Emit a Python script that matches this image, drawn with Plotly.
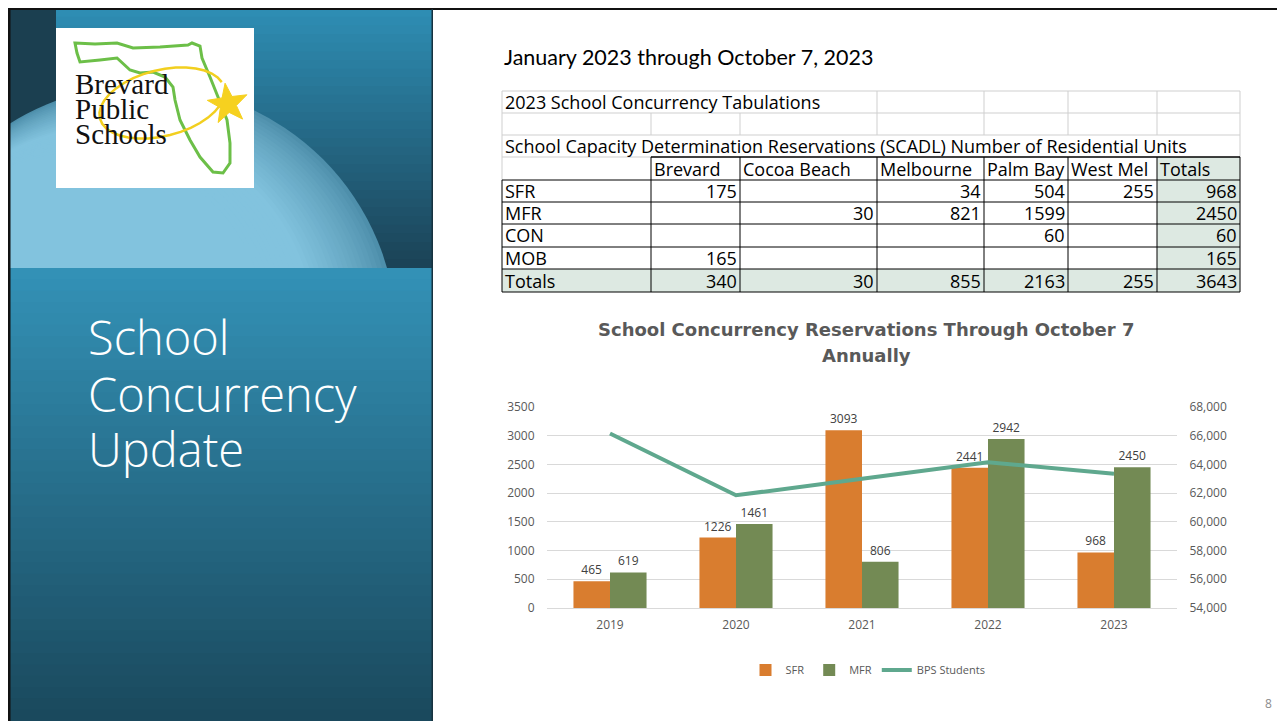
import plotly.graph_objects as go
import math

# ---------------- data ----------------
years = ["2019", "2020", "2021", "2022", "2023"]
sfr = [465, 1226, 3093, 2441, 968]
mfr = [619, 1461, 806, 2942, 2450]
bps_students = [66150, 61850, 63000, 64150, 63350]

table_cols = ["Brevard", "Cocoa Beach", "Melbourne", "Palm Bay", "West Mel", "Totals"]
table_rows = ["SFR", "MFR", "CON", "MOB", "Totals"]
row_sfr = [175, None, 34, 504, 255, 968]
row_mfr = [None, 30, 821, 1599, None, 2450]
row_con = [None, None, None, 60, None, 60]
row_mob = [165, None, None, None, None, 165]
row_tot = [340, 30, 855, 2163, 255, 3643]
table_values = [row_sfr, row_mfr, row_con, row_mob, row_tot]

# page body has an 8px margin; figure placed so slide pixels line up
OFF = 8
W, H = 1277, 713
def X(p): return (p - OFF) / W
def Y(p): return 1 - (p - OFF) / H

def hexmix(c1, c2, t):
    a = [int(c1[i:i+2], 16) for i in (1, 3, 5)]
    b = [int(c2[i:i+2], 16) for i in (1, 3, 5)]
    return "#%02x%02x%02x" % tuple(round(a[k] + (b[k] - a[k]) * t) for k in range(3))

shapes = []
ann = []

def rect(x0, y0, x1, y1, color, layer="below"):
    shapes.append(dict(type="rect", xref="paper", yref="paper", x0=X(x0), x1=X(x1),
                       y0=Y(y1), y1=Y(y0), fillcolor=color, line=dict(width=0), layer=layer))

def hline(x0, x1, y, color, w=1):
    shapes.append(dict(type="line", xref="paper", yref="paper", x0=X(x0), x1=X(x1),
                       y0=Y(y), y1=Y(y), line=dict(color=color, width=w), layer="above"))

def vline(x, y0, y1, color, w=1):
    shapes.append(dict(type="line", xref="paper", yref="paper", x0=X(x), x1=X(x),
                       y0=Y(y0), y1=Y(y1), line=dict(color=color, width=w), layer="above"))

def text(x, y, s, size, color="#000000", family="Open Sans", xanchor="left", weight=None):
    f = dict(size=size, color=color, family=family)
    if weight:
        f["weight"] = weight
    ann.append(dict(xref="paper", yref="paper", x=X(x), y=Y(y), text=s, showarrow=False,
                    xanchor=xanchor, yanchor="middle", font=f))

# ---------------- left panel backgrounds ----------------
n = 30
for i in range(n):
    y0 = 8 + (268 - 8) * i / n
    y1 = 8 + (268 - 8) * (i + 1) / n + 1.5
    rect(55, y0, 432, y1, hexmix("#2e8db3", "#1b4357", i / (n - 1)))
rect(8, 8, 56, 268, "#1b3f50")
cx, cy, r0 = 144, 338, 253
steps = 28
for k in range(steps):
    t = k / (steps - 1)
    s = t * 60
    ccx, ccy = cx - s * 0.97, cy - s * 0.1
    rr = r0 - s - t * 12
    col = hexmix("#4e8fab", "#82c3de", min(1.0, t * 1.6) ** 0.8)
    shapes.append(dict(type="circle", xref="paper", yref="paper",
                       x0=X(ccx - rr), x1=X(ccx + rr), y0=Y(ccy + rr), y1=Y(ccy - rr),
                       fillcolor=col, line=dict(width=0), layer="below"))
n = 40
for i in range(n):
    y0 = 268 + (721 - 268) * i / n
    y1 = 268 + (721 - 268) * (i + 1) / n + 1.5
    rect(8, y0, 432, y1, hexmix("#3391b6", "#1a495d", i / (n - 1)))
# frame and white slide
rect(432, 8, 1285, 721, "#ffffff")
rect(0, 0, 8, 721, "#ffffff")
rect(0, 0, 1285, 8, "#ffffff")
rect(8, 8, 1285, 10, "#111111")
rect(8, 8, 10.5, 721, "#111111")
rect(431.5, 9, 433, 721, "#17323f")

# ---------------- logo ----------------
rect(56, 28, 254, 188, "#ffffff")
fl = [(75,43),(95,44),(117,43),(133,48),(160,47),(188,45),(192,43),(200,46),(202,58),
      (210,77),(218,97),(227,120),(230,143),(230,163),(223,173),(213,172),(200,157),
      (190,140),(180,120),(175,100),(173,87),(165,77),(153,72),(140,73),(130,70),
      (117,58),(100,60),(80,62),(77,53)]
path = "M " + " L ".join("%.5f,%.5f" % (X(a), Y(b)) for a, b in fl) + " Z"
shapes.append(dict(type="path", xref="paper", yref="paper", path=path,
                   line=dict(color="#6cbf48", width=3), layer="above"))
ex, ey, rx, ry, rot = 162, 103, 64, 33, math.radians(-14)
pts = []
for j in range(0, 341, 10):
    a = math.radians(j + 10)
    px = rx * math.cos(a); py = ry * math.sin(a)
    pts.append((ex + px * math.cos(rot) - py * math.sin(rot), ey + px * math.sin(rot) + py * math.cos(rot)))
path = "M " + " L ".join("%.5f,%.5f" % (X(a), Y(b)) for a, b in pts)
shapes.append(dict(type="path", xref="paper", yref="paper", path=path,
                   line=dict(color="#f2cf1f", width=2.5), layer="above"))
sc = (228, 104)
sp = []
for j in range(10):
    rr = 21 if j % 2 == 0 else 8.5
    a = math.radians(-90 + j * 36 - 8)
    sp.append((sc[0] + rr * math.cos(a), sc[1] + rr * math.sin(a)))
path = "M " + " L ".join("%.5f,%.5f" % (X(a), Y(b)) for a, b in sp) + " Z"
shapes.append(dict(type="path", xref="paper", yref="paper", path=path,
                   fillcolor="#f6d11f", line=dict(color="#f6d11f", width=1), layer="above"))
for s, yy in (("Brevard", 84), ("Public", 109), ("Schools", 134)):
    text(73, yy, s, 29, "#111111", "Liberation Serif")

# left title
for s, yy in (("School", 337), ("Concurrency", 394), ("Update", 449)):
    text(86, yy, s, 47, "#ffffff", "Open Sans", weight=300)

# ---------------- right top title ----------------
text(502, 57, "January 2023 through October 7, 2023", 21.5, "#000000", "Lato")

# ---------------- table ----------------
cx_edges = [502, 651, 740, 877, 984, 1068, 1157, 1240]
ry_edges = [91, 113, 135, 157, 180, 202, 224, 247, 269, 292]
green = "#dde9e2"
grey = "#cfcfcf"
rect(cx_edges[6], ry_edges[3], cx_edges[7], ry_edges[9], green, layer="above")
rect(cx_edges[0], ry_edges[8], cx_edges[7], ry_edges[9], green, layer="above")
for yy in ry_edges[0:3]:
    hline(cx_edges[0], cx_edges[7], yy, grey)
hline(cx_edges[0], cx_edges[1], ry_edges[3], grey)
for xx in [cx_edges[0]] + cx_edges[3:]:
    vline(xx, ry_edges[0], ry_edges[1], grey)
for xx in cx_edges:
    vline(xx, ry_edges[1], ry_edges[2], grey)
vline(cx_edges[0], ry_edges[2], ry_edges[4], grey)
vline(cx_edges[7], ry_edges[2], ry_edges[3], grey)
hline(cx_edges[1], cx_edges[7], ry_edges[3], "#000000", 1.5)
for yy in ry_edges[4:]:
    hline(cx_edges[0], cx_edges[7], yy, "#000000", 1)
for xx in cx_edges[1:]:
    vline(xx, ry_edges[3], ry_edges[9], "#000000", 1)
vline(cx_edges[0], ry_edges[4], ry_edges[9], "#000000", 1)

tfont = "Open Sans"
tsize = 18
text(503, (ry_edges[0] + ry_edges[1]) / 2, "2023 School Concurrency Tabulations", tsize, family=tfont)
text(503, (ry_edges[2] + ry_edges[3]) / 2, "School Capacity Determination Reservations (SCADL) Number of Residential Units", tsize, family=tfont)
for j, c in enumerate(table_cols):
    text(cx_edges[j + 1] + 1, (ry_edges[3] + ry_edges[4]) / 2, c, tsize, family=tfont)
for i, rname in enumerate(table_rows):
    yc = (ry_edges[4 + i] + ry_edges[5 + i]) / 2
    text(503, yc, rname, tsize, family=tfont)
    for j, v in enumerate(table_values[i]):
        if v is not None:
            text(cx_edges[j + 2] - 1, yc, str(v), tsize, family=tfont, xanchor="right")

# ---------------- chart title ----------------
text(866, 329, "School Concurrency Reservations Through October 7", 18, "#595959", "DejaVu Sans", "center", weight=700)
text(866, 355, "Annually", 18, "#595959", "DejaVu Sans", "center", weight=700)

text(1268, 703, "8", 12, "#8c8c8c", "Open Sans", "center")

# ---------------- chart traces ----------------
fig = go.Figure()
fig.add_trace(go.Bar(x=years, y=sfr, name="SFR", marker=dict(color="#d97d2f", line=dict(width=0)),
                     text=sfr, textposition="outside", constraintext="none", cliponaxis=False,
                     textfont=dict(size=12, color="#404040", family="Open Sans")))
fig.add_trace(go.Bar(x=years, y=mfr, name="MFR", marker=dict(color="#738a54", line=dict(width=0)),
                     text=mfr, textposition="outside", constraintext="none", cliponaxis=False,
                     textfont=dict(size=12, color="#404040", family="Open Sans")))
fig.add_trace(go.Scatter(x=years, y=bps_students, name="BPS Students", yaxis="y2", mode="lines",
                         line=dict(color="#5fa88e", width=4)))

fig.update_layout(
    width=W, height=H, margin=dict(l=0, r=0, t=0, b=0, pad=0, autoexpand=False),
    paper_bgcolor="#ffffff", plot_bgcolor="rgba(0,0,0,0)",
    barmode="group", bargap=0.42, bargroupgap=0,
    shapes=shapes, annotations=ann,
    font=dict(family="Open Sans", color="#595959"),
    xaxis=dict(domain=[X(547), X(1177)], type="category", showgrid=False, zeroline=False,
               showline=False, ticks="outside", ticklen=6, tickcolor="rgba(0,0,0,0)",
               automargin=False, tickfont=dict(size=12, color="#595959")),
    yaxis=dict(domain=[Y(608), Y(407)], range=[0, 3500], dtick=500, showgrid=True,
               gridcolor="#d9d9d9", zeroline=True, zerolinecolor="#d9d9d9", zerolinewidth=1,
               ticks="outside", ticklen=9, tickcolor="rgba(0,0,0,0)", automargin=False,
               tickfont=dict(size=12, color="#595959")),
    yaxis2=dict(overlaying="y", side="right", range=[54000, 68000], dtick=2000,
                tickformat=",", showgrid=False, zeroline=False, ticks="outside", ticklen=9,
                tickcolor="rgba(0,0,0,0)", automargin=False,
                tickfont=dict(size=12, color="#595959")),
    showlegend=True,
    legend=dict(orientation="h", x=X(868), y=Y(670), xanchor="center", yanchor="middle",
                font=dict(size=11, color="#595959"), bgcolor="rgba(0,0,0,0)",
                traceorder="normal", itemwidth=30),
)

fig.write_html("out.html")
